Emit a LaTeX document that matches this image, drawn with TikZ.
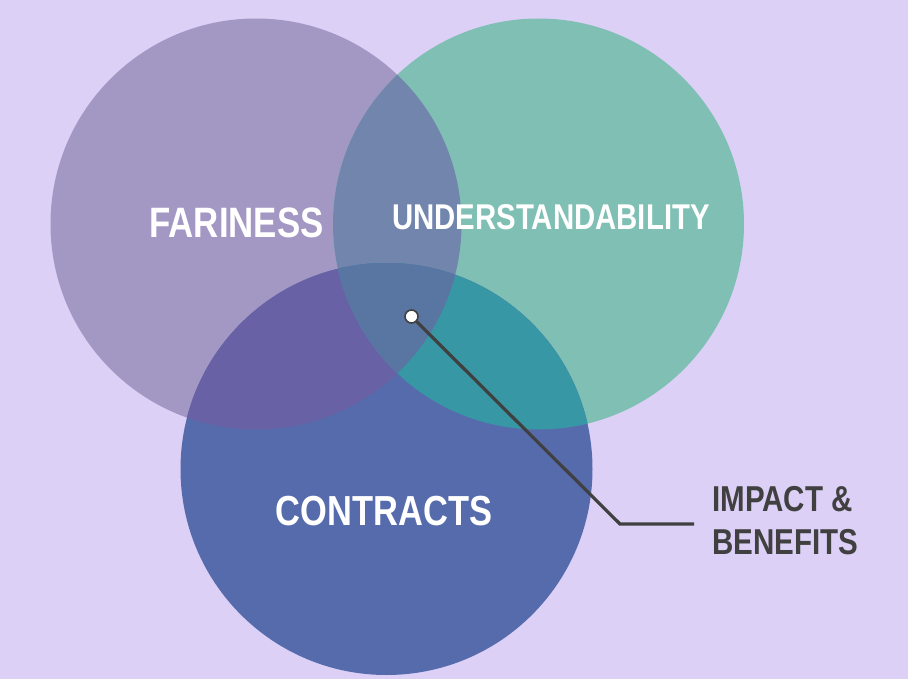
\documentclass[tikz,border=0pt]{standalone}
\usepackage{fontspec}
\newfontfamily\labelfont[FakeStretch=0.82]{Liberation Sans}
\definecolor{bgc}{RGB}{220,208,247}
\definecolor{cl}{RGB}{163,151,195}
\definecolor{cr}{RGB}{128,191,180}
\definecolor{clr}{RGB}{113,133,173}
\definecolor{cb}{RGB}{86,107,172}
\definecolor{cbl}{RGB}{104,97,165}
\definecolor{cbr}{RGB}{55,151,165}
\definecolor{cblr}{RGB}{89,118,163}
\definecolor{ink}{RGB}{64,64,64}
\tikzset{
  setlabel/.style={text=white, font=\labelfont\bfseries, inner sep=0pt, anchor=base},
  sidelabel/.style={text=ink, font=\labelfont\bfseries\fontsize{36}{43}\selectfont, inner sep=0pt, anchor=base west},
  leader/.style={draw=ink, line width=3.2pt, line join=miter},
  dotmark/.style={circle, fill=white, draw=ink, line width=1.6pt, minimum size=13pt, inner sep=0pt}
}
\begin{document}
\begin{tikzpicture}[x=1pt,y=-1pt]
\fill[bgc] (0,0) rectangle (908,679);
\useasboundingbox (0,0) rectangle (908,679);
\def\cL{(256,224) circle (205.5)}
\def\cR{(538.5,224) circle (205.5)}
\def\cB{(386.5,469) circle (206)}
\fill[cl] \cL;
\fill[cr] \cR;
\begin{scope}\clip \cL; \fill[clr] \cR;\end{scope}
\fill[cb] \cB;
\begin{scope}\clip \cB; \fill[cbl] \cL;\end{scope}
\begin{scope}\clip \cB; \fill[cbr] \cR;\end{scope}
\begin{scope}\clip \cB; \clip \cL; \fill[cblr] \cR;\end{scope}
\node[setlabel, font=\labelfont\bfseries\fontsize{42.5}{42.5}\selectfont] (fair) at (236.5,237.5) {FARINESS};
\node[setlabel, font=\labelfont\bfseries\fontsize{35.8}{35.8}\selectfont] (under) at (551,230) {UNDERSTANDABILITY};
\node[setlabel, font=\labelfont\bfseries\fontsize{42}{42}\selectfont] (contr) at (384,525) {CONTRACTS};
\node[sidelabel] (imp) at (712,511) {IMPACT \&};
\node[sidelabel] (ben) at (712,554) {BENEFITS};
\coordinate (bend) at (620,524);
\coordinate (tail) at (694,524);
\node[dotmark] (dot) at (411.5,316.5) {};
\draw[leader] (dot) -- (bend) -- (tail);
\end{tikzpicture}
\end{document}
